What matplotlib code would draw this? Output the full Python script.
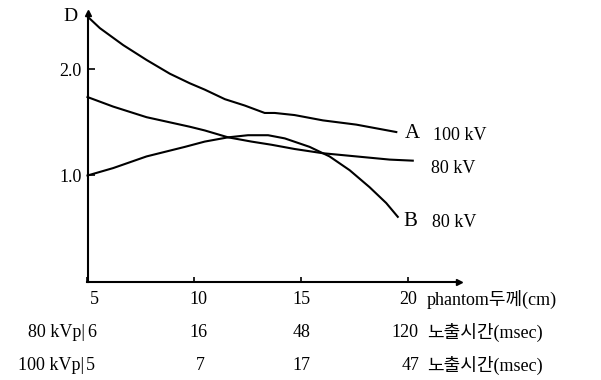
import matplotlib
matplotlib.use('Agg')
import matplotlib.pyplot as plt

plt.rcParams['font.family'] = ['Liberation Serif', 'Noto Sans CJK KR']

# curve A (100 kV)
xa = [5.0, 5.58, 6.67, 7.76, 8.85, 9.78, 10.48, 11.42, 12.35, 13.28, 13.75, 14.68, 16.00, 17.56, 19.43]
da = [2.50, 2.39, 2.23, 2.09, 1.96, 1.87, 1.81, 1.72, 1.66, 1.59, 1.59, 1.57, 1.52, 1.48, 1.41]
# 80 kV (middle curve)
xm = [5.0, 6.20, 7.76, 9.78, 10.48, 11.57, 12.66, 13.60, 14.68, 16.00, 17.56, 19.12, 20.20]
dm = [1.74, 1.65, 1.55, 1.46, 1.425, 1.36, 1.32, 1.29, 1.25, 1.21, 1.18, 1.15, 1.14]
# curve B (80 kV)
xb = [5.0, 6.20, 7.76, 9.55, 10.48, 11.57, 12.50, 13.44, 14.22, 15.38, 16.31, 17.25, 18.18, 18.96, 19.50]
db = [1.00, 1.07, 1.18, 1.27, 1.32, 1.36, 1.38, 1.38, 1.35, 1.27, 1.18, 1.05, 0.89, 0.74, 0.61]

curve_tag = ['A', '', 'B']
curve_kv = ['100 kV', '80 kV', '80 kV']

# table under the x axis
thickness = [5, 10, 15, 20]
time_80 = [6, 16, 48, 120]
time_100 = [5, 7, 17, 47]
yticks = [1.0, 2.0]

fig = plt.figure(figsize=(6.01, 3.80), dpi=100)
ax = fig.add_axes([87.5/601, 98.5/380, 371.5/601, 268.5/380])
ax.set_xlim(5, 22.36)
ax.set_ylim(0, 2.533)

for s in ['top', 'right']:
    ax.spines[s].set_visible(False)
ax.spines['left'].set_linewidth(1.5)
ax.spines['bottom'].set_linewidth(1.5)
ax.plot(0, 1, '^k', ms=5, transform=ax.transAxes, clip_on=False)
ax.plot(1, 0, '>k', ms=5, transform=ax.transAxes, clip_on=False)

lines = [(xa, da), (xm, dm), (xb, db)]
for x, d in lines:
    ax.plot(x, d, color='black', lw=1.5, clip_on=False)

# labels at the curve ends
tag_off = [(16, -1), None, (13, -5)]
kv_off = [(37, -3), (18, -8), (34, -6)]
for i, (x, d) in enumerate(lines):
    if curve_tag[i]:
        ax.annotate(curve_tag[i], xy=(x[-1], d[-1]), xytext=tag_off[i], textcoords='offset pixels',
                    ha='center', va='center', fontsize=15)
    ax.annotate(curve_kv[i], xy=(x[-1], d[-1]), xytext=kv_off[i], textcoords='offset pixels',
                ha='left', va='center', fontsize=13)

ax.set_yticks(yticks)
ax.set_yticklabels(['%.1f' % v for v in yticks], fontsize=13)
ax.tick_params(axis='y', direction='in', length=5, width=1.2, pad=4)
ax.set_xticks(thickness)
ax.set_xticklabels([])
ax.tick_params(axis='x', direction='in', length=3.5, width=1.2)

ax.annotate('D', xy=(0, 1), xycoords='axes fraction', xytext=(-17.5, -3.5),
            textcoords='offset pixels', ha='center', va='center', fontsize=14)

# rows under the axis
rows = [
    ('', [str(v) for v in thickness], 'phantom두께(cm)', -18, [6.5, 3.5, -0.5, -0.5], 18),
    ('80 kVp|', [str(v) for v in time_80], '노출시간(msec)', -51, [4, 3.5, 0, -3.5], 19),
    ('100 kVp|', [str(v) for v in time_100], '노출시간(msec)', -84, [2.5, 6, 0, 2.5], 19),
]
for head, labels, unit, dy, dxs, ux in rows:
    for xv, lab, dx in zip(thickness, labels, dxs):
        ax.annotate(lab, xy=(xv, 0), xycoords=('data', 'axes fraction'), xytext=(dx, dy),
                    textcoords='offset pixels', ha='center', va='center', fontsize=13,
                    annotation_clip=False)
    ax.annotate(unit, xy=(thickness[-1], 0), xycoords=('data', 'axes fraction'), xytext=(ux, dy),
                textcoords='offset pixels', ha='left', va='center', fontsize=13,
                annotation_clip=False)
    if head:
        ax.annotate(head, xy=(0, 0), xycoords='axes fraction', xytext=(-3, dy),
                    textcoords='offset pixels', ha='right', va='center', fontsize=13,
                    annotation_clip=False)

fig.savefig('out.png', dpi=100)
